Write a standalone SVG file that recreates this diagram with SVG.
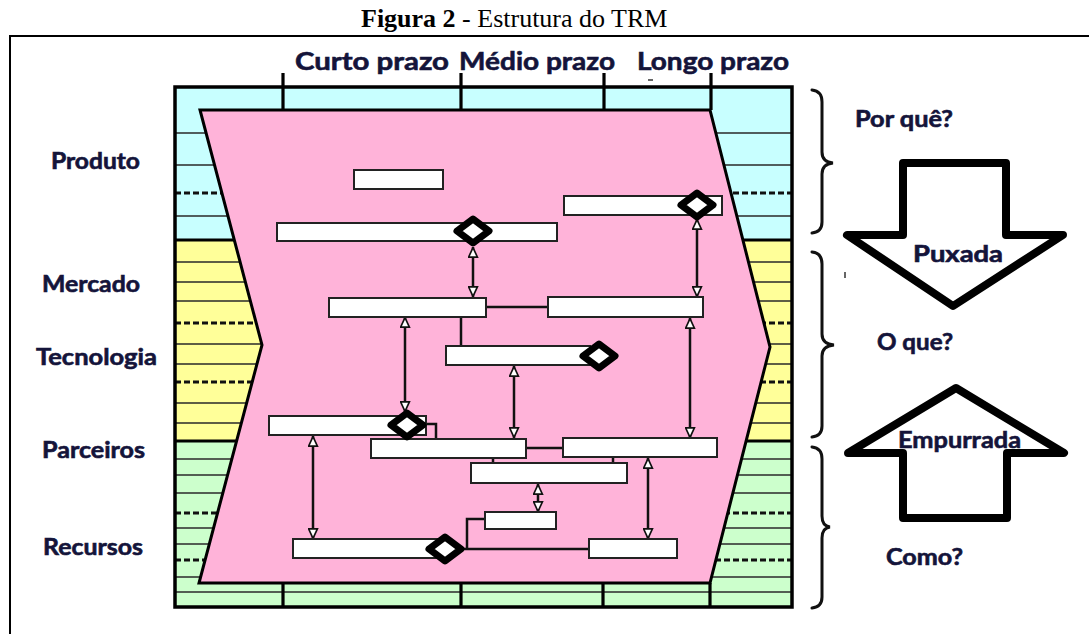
<svg xmlns="http://www.w3.org/2000/svg" width="1089" height="634" viewBox="0 0 1089 634">
  <style>
    .title { font-family: "Liberation Serif", "Times New Roman", serif; font-size: 26px; fill: #000; }
    .lbl { font-family: Lato, "Open Sans", "Liberation Sans", sans-serif; font-weight: 700; fill: #14143a; stroke: #14143a; stroke-width: 0.6; }
    .hdr { font-size: 25px; }
    .row { font-size: 22px; }
    .side { font-size: 22px; }
    .thin { stroke: #2a2a2a; stroke-width: 1.7; fill: none; }
    .dash { stroke: #111; stroke-width: 2.8; stroke-dasharray: 6 3; fill: none; }
    .thick { stroke: #000; stroke-width: 3.2; fill: none; }
    .bar { fill: #fff; stroke: #222; stroke-width: 2; }
    .link { stroke: #111; stroke-width: 2.5; fill: none; }
    .both { marker-start: url(#tri); marker-end: url(#tri); }
    .dia { fill: #fff; stroke: #000; stroke-width: 7; stroke-linejoin: round; }
    .brace { stroke: #111; stroke-width: 3; fill: none; stroke-linecap: round; }
    .big { fill: #fff; stroke: #000; stroke-width: 8; stroke-linejoin: round; }
  </style>
  <defs>
    <marker id="tri" viewBox="0 0 10 10" refX="10" refY="5" markerUnits="userSpaceOnUse" markerWidth="11" markerHeight="11" orient="auto-start-reverse">
      <path d="M0.8,1 L9.5,5 L0.8,9 Z" fill="#fff" stroke="#111" stroke-width="1.5"/>
    </marker>
    <polygon id="diamond" points="-16,0 0,-12 16,0 0,12"/>
  </defs>

  <rect width="1089" height="634" fill="#fff"/>

  <!-- caption -->
  <text class="title" x="361" y="27"><tspan font-weight="700">Figura 2</tspan> - Estrutura do TRM</text>
  <rect x="10" y="36" width="1100" height="620" fill="none" stroke="#000" stroke-width="2"/>

  <!-- layered grid -->
  <g id="grid">
    <rect x="175" y="87" width="617" height="153" fill="#c8ffff"/>
    <rect x="175" y="240" width="617" height="201" fill="#ffff99"/>
    <rect x="175" y="441" width="617" height="166" fill="#ccffcc"/>
    <g class="thin">
      <path d="M175,133H792M175,165H792M175,216H792"/>
      <path d="M175,262H792M175,282H792M175,301H792M175,344H792M175,364H792M175,403H792M175,423H792"/>
      <path d="M175,459H792M175,475H792M175,493H792M175,528H792M175,544H792M175,577H792M175,592H792"/>
    </g>
    <path class="dash" d="M175,193H792M175,323H792M175,382H792M175,513H792M175,560H792"/>
    <path class="thick" d="M175,240H792M175,441H792"/>
    <path d="M283,583V607M461,583V607M603,583V607M710,583V607" class="thick"/>
    <rect x="175" y="87" width="617" height="520" fill="none" stroke="#000" stroke-width="3.5"/>
    <path d="M283,73V110M461,73V110M604,73V110M711,73V110" class="thick"/>
  </g>

  <!-- time-frame headers -->
  <g id="headers" class="lbl hdr">
    <text x="295" y="70" textLength="154" lengthAdjust="spacingAndGlyphs">Curto prazo</text>
    <text x="459" y="70" textLength="156" lengthAdjust="spacingAndGlyphs">Médio prazo</text>
    <text x="637" y="70" textLength="152" lengthAdjust="spacingAndGlyphs">Longo prazo</text>
  </g>
  <path d="M648,80H653" stroke="#333" stroke-width="1.5"/>

  <!-- layer names -->
  <g id="layers" class="lbl row">
    <text x="51" y="169" textLength="89" lengthAdjust="spacingAndGlyphs">Produto</text>
    <text x="42" y="292" textLength="98" lengthAdjust="spacingAndGlyphs">Mercado</text>
    <text x="36" y="365" textLength="121" lengthAdjust="spacingAndGlyphs">Tecnologia</text>
    <text x="42" y="458" textLength="103" lengthAdjust="spacingAndGlyphs">Parceiros</text>
    <text x="43" y="555" textLength="100" lengthAdjust="spacingAndGlyphs">Recursos</text>
  </g>

  <!-- roadmap area -->
  <path id="roadmap" d="M200,110 L710,110 L770,347 L710,583 L199,583 L262,345 Z" fill="#ffb3d9" stroke="#000" stroke-width="3" stroke-linejoin="miter"/>

  <!-- connectors -->
  <g id="connectors">
    <path class="link both" d="M473,247V297"/>
    <path class="link both" d="M697,219V297"/>
    <path class="link both" d="M405,317V412"/>
    <path class="link both" d="M514,366V438"/>
    <path class="link both" d="M690,318V438"/>
    <path class="link both" d="M313,436V539"/>
    <path class="link both" d="M648,458V539"/>
    <path class="link both" d="M538,484V512"/>
    <path class="link" d="M486,307H548"/>
    <path class="link" d="M461,317V346"/>
    <path class="link" d="M420,424H436V439"/>
    <path class="link" d="M526,448H563"/>
    <path class="link" d="M493,457V463M613,457V463"/>
    <path class="link" d="M460,549H589"/>
    <path class="link" d="M467,549V519H485"/>
  </g>

  <!-- activity bars -->
  <g id="bar-a"><rect class="bar" x="354" y="170" width="89" height="19"/></g>
  <g id="bar-b"><rect class="bar" x="277" y="223" width="280" height="18"/></g>
  <g id="bar-c"><rect class="bar" x="564" y="196" width="158" height="19"/></g>
  <g id="bar-d"><rect class="bar" x="329" y="298" width="157" height="19"/></g>
  <g id="bar-e"><rect class="bar" x="548" y="297" width="155" height="20"/></g>
  <g id="bar-f"><rect class="bar" x="446" y="346" width="144" height="19"/></g>
  <g id="bar-g"><rect class="bar" x="269" y="416" width="157" height="19"/></g>
  <g id="bar-h"><rect class="bar" x="371" y="439" width="155" height="19"/></g>
  <g id="bar-i"><rect class="bar" x="563" y="438" width="154" height="19"/></g>
  <g id="bar-j"><rect class="bar" x="471" y="463" width="156" height="20"/></g>
  <g id="bar-k"><rect class="bar" x="485" y="512" width="71" height="17"/></g>
  <g id="bar-l"><rect class="bar" x="293" y="539" width="157" height="19"/></g>
  <g id="bar-m"><rect class="bar" x="589" y="539" width="88" height="19"/></g>

  <!-- milestones -->
  <g id="milestones">
    <use href="#diamond" class="dia" x="473" y="231"/>
    <use href="#diamond" class="dia" x="697" y="205"/>
    <use href="#diamond" class="dia" x="599" y="356"/>
    <use href="#diamond" class="dia" x="407" y="425"/>
    <use href="#diamond" class="dia" x="445" y="549"/>
  </g>

  <!-- braces -->
  <g id="braces">
    <path class="brace" d="M812,90 Q822,91 822,102 V152 Q822,162 833,163 Q822,164 822,174 V222 Q822,232 812,233"/>
    <path class="brace" d="M812,252 Q822,253 822,264 V334 Q822,344 834,345 Q822,346 822,356 V426 Q822,436 812,437"/>
    <path class="brace" d="M812,447 Q822,448 822,459 V516 Q822,526 830,527 Q822,528 822,538 V597 Q822,607 812,608"/>
  </g>
  <path d="M845,272V278" stroke="#333" stroke-width="1.5"/>

  <!-- side labels -->
  <g id="questions" class="lbl side">
    <text x="855" y="127" textLength="98" lengthAdjust="spacingAndGlyphs">Por quê?</text>
    <text x="877" y="350" textLength="76" lengthAdjust="spacingAndGlyphs">O que?</text>
    <text x="886" y="565" textLength="77" lengthAdjust="spacingAndGlyphs">Como?</text>
  </g>

  <!-- pull arrow -->
  <g id="pull">
    <polygon class="big" points="903,163 1006,163 1006,235 1063,235 953,306 847,235 903,235"/>
    <text class="lbl side" x="913" y="262" textLength="90" lengthAdjust="spacingAndGlyphs">Puxada</text>
  </g>

  <!-- push arrow -->
  <g id="push">
    <polygon class="big" points="956,388 1064,453 1007,453 1007,518 903,518 903,453 848,453"/>
    <text class="lbl side" x="898" y="448" textLength="123" lengthAdjust="spacingAndGlyphs">Empurrada</text>
  </g>
</svg>
